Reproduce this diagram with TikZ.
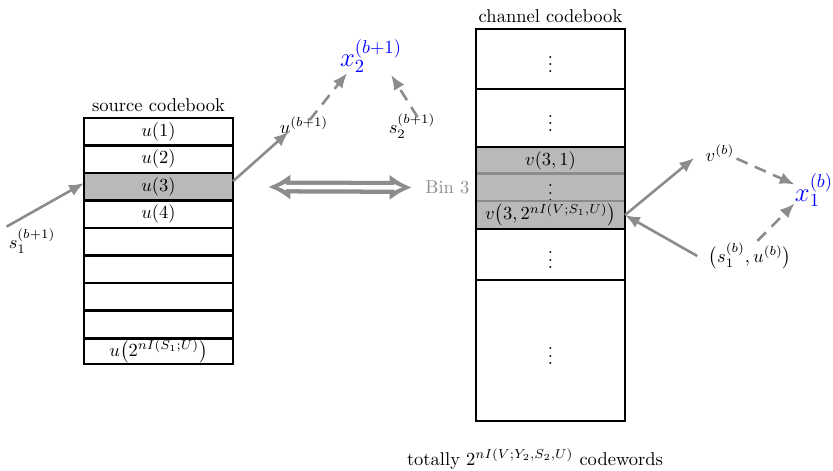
\documentclass[tikz,border=0pt]{standalone}
\usetikzlibrary{positioning,arrows.meta}
\definecolor{grigioFreccia}{RGB}{140,140,140}
\definecolor{grigioBin}{RGB}{185,185,185}

\begin{document}
\begin{tikzpicture}[x=0.54pt,y=-0.54pt,
  riga/.style={draw=black,line width=1.4pt,minimum width=80.5pt,
    minimum height=14.85pt,inner sep=0pt,outer sep=0pt},
  rigaBin/.style={riga,draw=grigioFreccia,fill=grigioBin},
  etichetta/.style={inner sep=1pt},
  uscita/.style={etichetta,text=blue,font=\Large},
  freccia/.style={draw=grigioFreccia,line width=1.4pt,
    -{Latex[length=8pt,width=6.5pt]}},
  frecciaTratt/.style={freccia,dash pattern=on 6.5pt off 4.3pt},
  doppiaFuori/.style={draw=grigioFreccia,line width=7pt,
    {Latex[length=12pt,width=14pt]}-{Latex[length=12pt,width=14pt]}},
  doppiaDentro/.style={draw=white,line width=2.4pt,
    {Latex[length=4.5pt,width=4pt]}-{Latex[length=4.5pt,width=4pt]}}]
  \useasboundingbox (0,0) rectangle (833,470);
  % Codebook di sorgente: una riga per parola, la terza evidenziata.
  \foreach \i/\voce/\fondo in {1/{$u(1)$}/white,2/{$u(2)$}/white,
    3/{$u(3)$}/grigioBin,4/{$u(4)$}/white,5/{}/white,6/{}/white,
    7/{}/white,8/{}/white}{
    \node[riga,fill=\fondo] (u\i) at (158.5,{104.25+27.5*\i}) {\voce};
  }
  \node[riga,minimum height=13.5pt] (u9) at (158.5,351.5)
    {$u\bigl(2^{nI(S_1;U)}\bigr)$};
  \node[above=0pt of u1] (titoloSorgente) {source codebook};
  % Codebook di canale, con il bin 3 in grigio.
  \node[riga,minimum height=32.4pt] (c1) at (550.5,59) {$\vdots$};
  \node[riga,minimum height=31.3pt] (c2) at (550.5,118) {$\vdots$};
  \node[rigaBin,minimum height=14.6pt] (c3) at (550.5,160.5) {$v(3,1)$};
  \node[rigaBin,minimum height=14.6pt] (c4) at (550.5,187.5) {$\vdots$};
  \node[rigaBin,minimum height=15.1pt] (c5) at (550.5,215)
    {$v\bigl(3,2^{nI(V;S_1,U)}\bigr)$};
  \draw[line width=1.4pt] (c3.north west) rectangle (c5.south east);
  \node[riga,minimum height=27.5pt] (c6) at (550.5,254.5) {$\vdots$};
  \node[riga,minimum height=76.1pt] (c7) at (550.5,350.5) {$\vdots$};
  \node[above=0pt of c1] (titoloCanale) {channel codebook};
  \node[text=grigioFreccia,left=0pt of c4] (bin3) {Bin 3};
  \node (totale) at (535,459) {totally $2^{nI(V;Y_2,S_2,U)}$ codewords};
  % Freccia doppia: contorno grigio e anima bianca.
  \draw[doppiaFuori,shorten <=19pt,shorten >=3.8pt] (u3.east) -- (bin3.west);
  \draw[doppiaDentro,shorten <=24pt,shorten >=8.8pt] (u3.east) -- (bin3.west);
  % Blocco b+1 a sinistra.
  \node[etichetta] (s1) at (32,241) {$s_1^{(b+1)}$};
  \node[etichetta] (ub) at (304,125) {$u^{(b+1)}$};
  \node[uscita] (x2) at (371,56) {$x_2^{(b+1)}$};
  \node[etichetta] (s2) at (412,126) {$s_2^{(b+1)}$};
  \draw[freccia] (s1.north west) -- ([yshift=2pt]u3.west);
  \draw[freccia] ([yshift=3pt]u3.east) -- ([xshift=6pt,yshift=2pt]ub.south west);
  \draw[frecciaTratt] ([xshift=3pt,yshift=-3pt]ub.north)
    -- ([xshift=5pt,yshift=1pt]x2.south west);
  \draw[frecciaTratt] ([xshift=3pt,yshift=-3pt]s2.north)
    -- ([xshift=-7pt]x2.south east);
  % Blocco b a destra.
  \node[etichetta] (vb) at (720,153) {$v^{(b)}$};
  \node[uscita] (x1) at (814,190) {$x_1^{(b)}$};
  \node[etichetta] (su) at (750,256) {$\bigl(s_1^{(b)},u^{(b)}\bigr)$};
  \draw[freccia] (c5.east) -- ([xshift=-5pt,yshift=3pt]vb.south west);
  \draw[frecciaTratt] ([yshift=-3pt]vb.east) -- ([xshift=1pt,yshift=3pt]x1.west);
  \draw[frecciaTratt] ([xshift=4pt]su.north)
    -- ([xshift=1pt,yshift=3pt]x1.south west);
  \draw[freccia] ([xshift=-5pt]su.west) -- (c5.east);
\end{tikzpicture}
\end{document}
